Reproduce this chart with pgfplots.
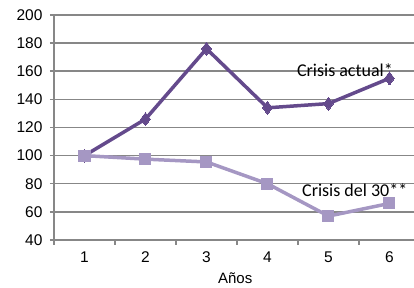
\documentclass[border=0pt]{standalone}
\usepackage{pgfplots}
\pgfplotsset{compat=1.18}
\usepackage{fontspec}
\setmainfont{Liberation Sans}
\newfontfamily\calibri{Carlito}
\definecolor{darkp}{RGB}{100,74,140}
\definecolor{lightp}{RGB}{165,151,195}
\definecolor{gridg}{RGB}{135,135,135}
\begin{document}
\begin{tikzpicture}[x=1pt,y=1pt]
\useasboundingbox (0,0) rectangle (414,288);
\begin{axis}[
  at={(54pt,48pt)}, anchor=south west,
  scale only axis, width=366pt, height=225pt,
  xmin=0.5, xmax=6.5, ymin=40, ymax=200,
  xtick={1,2,3,4,5,6},
  minor xtick={0.5,1.5,2.5,3.5,4.5,5.5,6.5},
  ytick={40,60,80,100,120,140,160,180,200},
  axis x line=bottom, axis y line=left,
  axis line style={gridg, line width=1.5pt, -},
  ymajorgrids, major grid style={gridg, line width=1.5pt},
  major x tick style={draw=none},
  minor x tick style={gridg, line width=1.5pt},
  major y tick style={gridg, line width=1.5pt},
  tick align=outside,
  major tick length=4pt, minor tick length=5pt,
  /pgf/number format/assume math mode=true,
  tick label style={font=\fontsize{15.5}{18}\selectfont},
  yticklabel style={xshift=-4pt},
  xticklabel style={yshift=-4pt},
  xlabel={Años},
  xlabel style={font=\fontsize{15}{17}\selectfont, at={(axis description cs:0.495,0)}, anchor=center, yshift=-38.5pt},
  clip=false,
]
\addplot[darkp, line width=3.5pt, mark=diamond*, mark size=6.5pt, mark options={fill=darkp, line width=0pt}]
  coordinates {(1,100) (2,126) (3,176) (4,134) (5,137) (6,155)};
\addplot[lightp, line width=3.5pt, mark=square*, mark size=5.5pt, mark options={fill=lightp, line width=0pt}]
  coordinates {(1,100) (2,97.5) (3,95.5) (4,80) (5,57) (6,66)};
\node[font=\calibri\fontsize{18}{20}\selectfont] at (axis cs:5.27,160.5) {Crisis actual*};
\node[font=\calibri\fontsize{18}{20}\selectfont] at (axis cs:5.43,75.5) {Crisis del 30**};
\end{axis}
\end{tikzpicture}
\end{document}
